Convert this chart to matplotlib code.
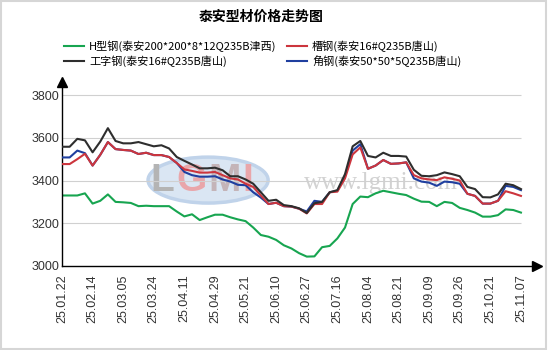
import numpy as np
import matplotlib
matplotlib.use("Agg")
import matplotlib.pyplot as plt
from matplotlib.patches import Ellipse, Rectangle
from matplotlib.lines import Line2D

plt.rcParams['font.family'] = ['Noto Sans CJK SC', 'DejaVu Sans']

title = "泰安型材价格走势图"
tick_labels = ["25.01.22", "25.02.14", "25.03.05", "25.03.24", "25.04.11", "25.04.29",
               "25.05.21", "25.06.10", "25.06.27", "25.07.16", "25.08.04", "25.08.21",
               "25.09.09", "25.09.26", "25.10.21", "25.11.07"]
names = ["H型钢(泰安200*200*8*12Q235B津西)", "工字钢(泰安16#Q235B唐山)",
         "槽钢(泰安16#Q235B唐山)", "角钢(泰安50*50*5Q235B唐山)"]

# four samples between two labelled dates
h_beam = [3330, 3330, 3330, 3340, 3292, 3305, 3335, 3300, 3298, 3295,
          3280, 3282, 3280, 3280, 3280, 3255, 3232, 3242, 3215, 3228,
          3240, 3240, 3228, 3218, 3210, 3180, 3145, 3137, 3122, 3097,
          3082, 3060, 3044, 3045, 3088, 3094, 3129, 3180, 3290, 3325,
          3322, 3340, 3352, 3345, 3338, 3332, 3315, 3301, 3300, 3280,
          3300, 3295, 3272, 3262, 3250, 3231, 3231, 3238, 3265, 3262,
          3250]
i_beam = [3558, 3558, 3595, 3588, 3532, 3582, 3645, 3585, 3574, 3574,
          3580, 3570, 3560, 3565, 3550, 3510, 3492, 3475, 3457, 3457,
          3460, 3448, 3420, 3420, 3405, 3385, 3345, 3305, 3310, 3285,
          3280, 3270, 3248, 3294, 3300, 3345, 3355, 3430, 3560, 3585,
          3515, 3508, 3530, 3515, 3515, 3512, 3450, 3422, 3420, 3425,
          3438, 3430, 3420, 3370, 3360, 3322, 3321, 3335, 3385, 3378,
          3360]
channel = [3477, 3477, 3500, 3525, 3470, 3520, 3580, 3547, 3543, 3540,
           3524, 3530, 3519, 3519, 3510, 3482, 3452, 3445, 3437, 3437,
           3440, 3425, 3410, 3405, 3385, 3370, 3330, 3290, 3296, 3280,
           3278, 3268, 3246, 3290, 3290, 3345, 3348, 3410, 3522, 3555,
           3455, 3470, 3496, 3478, 3480, 3485, 3425, 3410, 3405, 3402,
           3415, 3408, 3400, 3338, 3328, 3292, 3292, 3305, 3350, 3340,
           3328]
angle = [3508, 3508, 3540, 3528, 3470, 3520, 3580, 3547, 3543, 3540,
         3524, 3530, 3519, 3519, 3510, 3482, 3440, 3425, 3418, 3418,
         3420, 3405, 3395, 3380, 3378, 3345, 3320, 3290, 3296, 3280,
         3278, 3268, 3255, 3305, 3300, 3345, 3352, 3420, 3540, 3570,
         3455, 3470, 3496, 3478, 3480, 3485, 3410, 3395, 3390, 3375,
         3395, 3392, 3385, 3338, 3328, 3292, 3292, 3305, 3375, 3370,
         3355]

x = np.arange(len(h_beam))
tick_pos = np.arange(0, len(h_beam), 4)

fig = plt.figure(figsize=(5.5, 3.5), dpi=100)
ax = fig.add_axes([62/550, 84/350, 475/550, 184/350])

# watermark logo + site name
ax.add_patch(Ellipse((19.1, 3402), 15.7, 215, facecolor='#dae6f3', edgecolor='#c0d3ea',
                     lw=2.5, zorder=0))
for lx, lt, lc in [(13.1, "L", '#b4b4b4'), (16.9, "G", '#e9a6aa'), (21.2, "M", '#c4b4b8'),
                   (24.3, "I", '#e9a6aa')]:
    ax.text(lx, 3398, lt, fontsize=28, fontweight='bold', color=lc, ha='center', va='center',
            family='Liberation Sans', zorder=0.5)
ax.text(41.7, 3390, "www.lgmi.com", fontsize=18, family='Liberation Serif',
        color='#d2d2d2', ha='center', va='center', zorder=0.5)

ax.hlines([3200, 3400, 3600, 3800], 0, 60, color='#d0d0d0', lw=0.8, zorder=0.8)

ax.plot(x, h_beam, color='#17a550', lw=1.5, zorder=2)
ax.plot(x, angle, color='#1f3f9f', lw=1.5, zorder=3)
ax.plot(x, channel, color='#cc353d', lw=1.5, zorder=4)
ax.plot(x, i_beam, color='#2e2e2e', lw=1.5, zorder=5)

ax.set_xlim(0, 62.1)
ax.set_ylim(3000, 3861)
ax.set_xticks(tick_pos)
ax.set_xticklabels(tick_labels, rotation=90, family='Liberation Sans', fontsize=9, color='#333333')
ax.set_yticks([3000, 3200, 3400, 3600, 3800])
ax.set_yticklabels(["3000", "3200", "3400", "3600", "3800"], family='Liberation Sans',
                   fontsize=9, color='#333333')
ax.tick_params(axis='x', length=0, pad=6)
ax.tick_params(axis='y', length=0, pad=2)
for s in ['top', 'right']:
    ax.spines[s].set_visible(False)
for s in ['left', 'bottom']:
    ax.spines[s].set_color('black')
    ax.spines[s].set_linewidth(1)
ax.plot(1, 0, '>', color='black', ms=7, transform=ax.transAxes, clip_on=False)
ax.plot(0, 1, '^', color='black', ms=7, transform=ax.transAxes, clip_on=False)

fig.text(261/550, 1 - 17/350, title, ha='center', va='center', fontsize=10, fontweight='bold')

handles = [Line2D([], [], color=c, lw=1.5) for c in ['#17a550', '#2e2e2e', '#cc353d', '#1f3f9f']]
fig.legend(handles, names, ncol=2, loc='upper left', bbox_to_anchor=(64/550, 1 - 40/350),
           frameon=False, fontsize=8, handlelength=1.8, handletextpad=0.45,
           columnspacing=0.95, labelspacing=0.33, borderpad=0, borderaxespad=0)

fig.patches.append(Rectangle((0.002, 0.003), 0.99, 0.994, transform=fig.transFigure,
                             fill=False, edgecolor='#d6d6d6', lw=1.5))

fig.savefig("out.png", dpi=100)
